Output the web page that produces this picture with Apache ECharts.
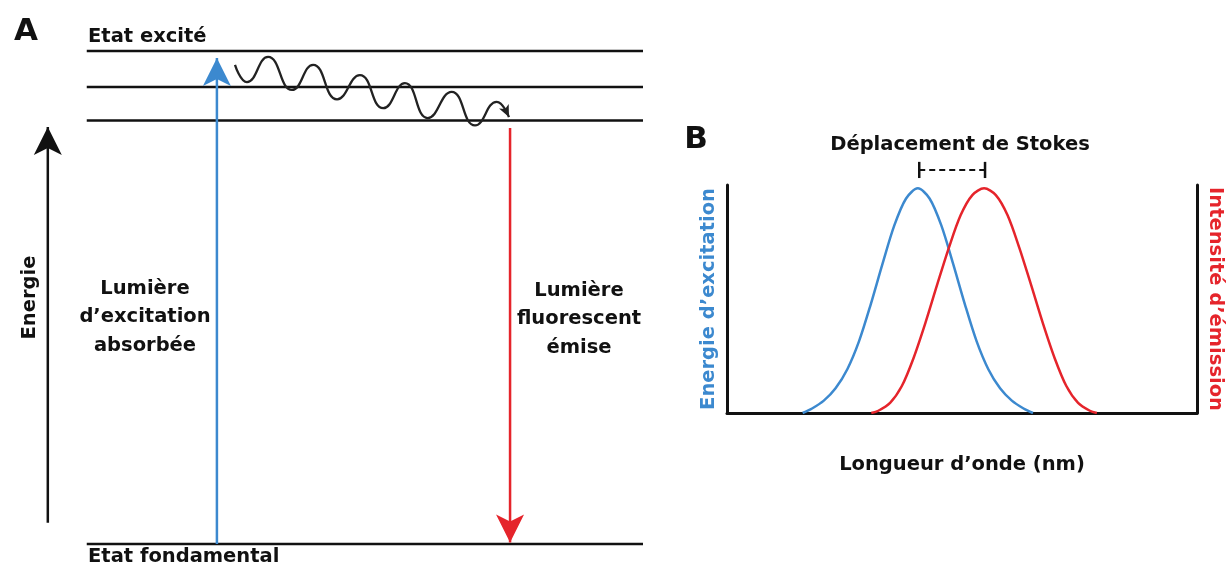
<!DOCTYPE html>
<html><head><meta charset="utf-8">
<script src="https://cdn.jsdelivr.net/npm/echarts@6/dist/echarts.min.js"></script>
<style>html,body{margin:0;padding:0;background:#fff}#c{width:1230px;height:569px}</style>
</head><body><div id="c"></div>
<script>
// ---------- Panel A : Jablonski diagram (abstract energy units) ----------
const energyLevels = [0, 85.9, 92.7, 100];          // ground state + 3 excited vibrational levels
const levelSpan = [0, 100];                          // horizontal extent of the level lines
const energyAxisArrow = [[-7.0, 4.3], [-7.0, 84.6]]; // "Energie" arrow
const excitationArrow = [[23.4, 0], [23.4, 98.6]];   // absorbed light (blue, up)
const emissionArrow = [[76.1, 84.4], [76.1, 0.3]];   // emitted light (red, down)
const relaxationWave = [
  [26.65, 97.2], [28.8, 93.7], [32.6, 98.8], [36.9, 92.1], [40.7, 97.2], [45.0, 90.2],
  [49.1, 95.1], [53.3, 88.4], [57.2, 93.5], [61.3, 86.4], [65.6, 91.7], [69.8, 84.9],
  [73.7, 89.7], [75.9, 86.6]
];
// ---------- Panel B : spectra (wavelength units 0..100, relative intensity) ----------
const excitationSpectrum = [
  [16.1, 0], [18.1, 0.02], [20.6, 0.055], [23.1, 0.11], [25.6, 0.195], [28.1, 0.32], [30.6, 0.485],
  [33.1, 0.665], [35.6, 0.835], [38.1, 0.955], [40.6, 1.0], [43.1, 0.955], [45.6, 0.835],
  [48.1, 0.665], [50.6, 0.485], [53.1, 0.32], [55.6, 0.195], [58.1, 0.11], [60.6, 0.055],
  [63.1, 0.02], [65.1, 0]
];
const emissionSpectrum = [
  [30.7, 0], [32.2, 0.01], [34.7, 0.045], [37.2, 0.12], [39.7, 0.245], [42.2, 0.40], [44.7, 0.57],
  [47.2, 0.735], [49.7, 0.88], [52.2, 0.97], [54.7, 1.0], [57.2, 0.97], [59.7, 0.88],
  [62.2, 0.735], [64.7, 0.57], [67.2, 0.40], [69.7, 0.245], [72.2, 0.12], [74.7, 0.045],
  [77.2, 0.01], [78.7, 0]
];
const stokesPeaks = [40.9, 54.9];
const stokesBracketY = [1.082, 1.046, 1.118]; // dashed line level, tick bottom, tick top

const BLUE = '#3c89cf', RED = '#e5242b', INK = '#111';
const FONT = 'DejaVu Sans';

const chart = echarts.init(document.getElementById('c'), null, {renderer: 'canvas'});

function title(text, left, top, align, size, color) {
  return {text, left, top, textAlign: align, textVerticalAlign: 'middle', padding: 0,
    textStyle: {fontFamily: FONT, fontWeight: 'bold', fontSize: size, color: color || INK, lineHeight: 28.5}};
}
function hidden(extra) {
  return Object.assign({type: 'value', axisLine: {show: false}, axisTick: {show: false},
    axisLabel: {show: false}, splitLine: {show: false}}, extra);
}
function arrowSeries(points, color, down) {
  return {type: 'line', xAxisIndex: 0, yAxisIndex: 0, clip: false, silent: true, animation: false,
    showSymbol: true, symbol: 'none',
    lineStyle: {color, width: 2.5}, itemStyle: {color, borderWidth: 0},
    data: [
      {value: points[0], symbol: 'none'},
      {value: points[1], symbol: 'arrow', symbolSize: [21, 28], symbolRotate: down ? 180 : 0}
    ]};
}

const series = [];
energyLevels.forEach(v => series.push({
  type: 'line', xAxisIndex: 0, yAxisIndex: 0, clip: false, silent: true, symbol: 'none',
  lineStyle: {color: INK, width: 2.5}, data: [[levelSpan[0], v], [levelSpan[1], v]]
}));
series.push(arrowSeries(energyAxisArrow, INK, false));
series.push(arrowSeries(excitationArrow, BLUE, false));
series.push(arrowSeries(emissionArrow, RED, true));
series.push({
  type: 'line', xAxisIndex: 0, yAxisIndex: 0, clip: false, silent: true, smooth: 0.5,
  showSymbol: true, symbol: 'none', lineStyle: {color: '#222', width: 2.3},
  itemStyle: {color: '#222', borderWidth: 0},
  data: relaxationWave.map((p, i) => i === relaxationWave.length - 1
    ? {value: p, symbol: 'arrow', symbolSize: [8, 12], symbolRotate: -155}
    : {value: p, symbol: 'none'})
});
series.push({type: 'line', xAxisIndex: 1, yAxisIndex: 1, smooth: 0.3, symbol: 'none', silent: true,
  lineStyle: {color: BLUE, width: 2.5}, data: excitationSpectrum});
series.push({type: 'line', xAxisIndex: 1, yAxisIndex: 2, smooth: 0.3, symbol: 'none', silent: true,
  lineStyle: {color: RED, width: 2.5}, data: emissionSpectrum});
series.push({type: 'line', xAxisIndex: 1, yAxisIndex: 1, clip: false, symbol: 'none', silent: true,
  lineStyle: {color: INK, width: 2, type: [6, 4]},
  data: [[stokesPeaks[0], stokesBracketY[0]], [stokesPeaks[1], stokesBracketY[0]]]});
stokesPeaks.forEach(x => series.push({type: 'line', xAxisIndex: 1, yAxisIndex: 1, clip: false,
  symbol: 'none', silent: true, lineStyle: {color: INK, width: 2.5},
  data: [[x, stokesBracketY[1]], [x, stokesBracketY[2]]]}));

const nameStyle = (color) => ({fontFamily: FONT, fontWeight: 'bold', fontSize: 19.5, color: color || INK});
const visLine = {show: true, onZero: false, lineStyle: {color: INK, width: 3}};

chart.setOption({
  animation: false,
  backgroundColor: '#fff',
  title: [
    title('A', 26, 32, 'center', 31),
    title('Etat excité', 88, 37, 'left', 19.5),
    title('Etat fondamental', 88, 557, 'left', 19.5),
    title('Lumière\nd’excitation\nabsorbée', 145, 317, 'center', 19.5),
    title('Lumière\nfluorescent\némise', 579, 319, 'center', 19.5),
    title('B', 696, 140, 'center', 31),
    title('Déplacement de Stokes', 960, 145, 'center', 19.5)
  ],
  grid: [
    {left: 20, right: 587, top: 51, bottom: 25},
    {left: 727, right: 33, top: 185, bottom: 156}
  ],
  xAxis: [
    hidden({gridIndex: 0, min: -12, max: 100}),
    hidden({gridIndex: 1, min: 0, max: 100, axisLine: visLine,
      name: 'Longueur d’onde (nm)', nameLocation: 'middle', nameGap: 42, nameTextStyle: nameStyle()})
  ],
  yAxis: [
    hidden({gridIndex: 0, min: 0, max: 100, position: 'left', offset: -20,
      name: 'Energie', nameLocation: 'middle', nameRotate: 90, nameGap: 0, nameTextStyle: nameStyle()}),
    hidden({gridIndex: 1, min: 0, max: 1.015, position: 'left', axisLine: visLine,
      name: 'Energie d’excitation', nameLocation: 'middle', nameRotate: 90, nameGap: 8,
      nameTextStyle: nameStyle(BLUE)}),
    hidden({gridIndex: 1, min: 0, max: 1.015, position: 'right', axisLine: visLine,
      name: 'Intensité d’émission', nameLocation: 'middle', nameRotate: -90, nameGap: 8,
      nameTextStyle: nameStyle(RED)})
  ],
  series
});
</script></body></html>
